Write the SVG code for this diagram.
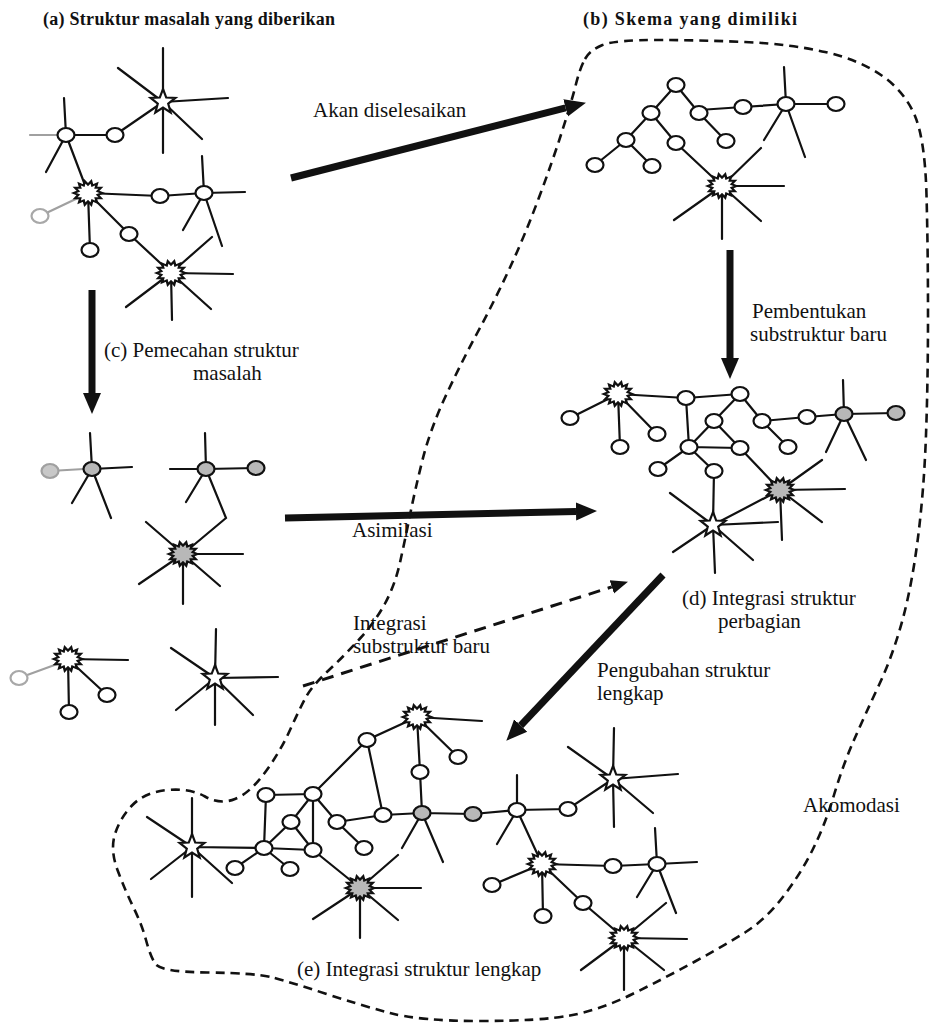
<svg xmlns="http://www.w3.org/2000/svg" width="936" height="1024" viewBox="0 0 936 1024">
<style>
.ln{stroke:#111;stroke-width:2.2;fill:none;stroke-linecap:round}
.fd{stroke:#a0a0a0}
.c{fill:#fff;stroke:#111;stroke-width:2.2}
.g{fill:#b8b8b8;stroke:#111;stroke-width:2.2}
.fc{fill:#fff;stroke:#a8a8a8;stroke-width:2.2}
.fg{fill:#c8c8c8;stroke:#a0a0a0;stroke-width:2.2}
.t{font-family:"Liberation Serif","Times New Roman",serif;font-size:21px;fill:#111}
.tb{font-family:"Liberation Serif","Times New Roman",serif;font-size:18px;font-weight:bold;fill:#111}
.ar{stroke:#111;stroke-width:7;fill:none}
.da{stroke:#111;stroke-width:3;fill:none;stroke-dasharray:12 8}
.bd{stroke:#111;stroke-width:2.6;fill:none;stroke-dasharray:9 6}
</style>
<defs>
<polygon id="star" points="0,-13 3.23,-4.45 12.36,-4.02 5.23,1.7 7.64,10.52 0,5.5 -7.64,10.52 -5.23,1.7 -12.36,-4.02 -3.23,-4.45"/>
<polygon id="burst" transform="scale(1.1,0.92)" points="13,0 8.77,2 11.71,5.64 7.04,5.61 8.11,10.16 3.91,8.11 2.89,12.67 0,9 -2.89,12.67 -3.91,8.11 -8.11,10.16 -7.04,5.61 -11.71,5.64 -8.77,2 -13,0 -8.77,-2 -11.71,-5.64 -7.04,-5.61 -8.11,-10.16 -3.91,-8.11 -2.89,-12.67 0,-9 2.89,-12.67 3.91,-8.11 8.11,-10.16 7.04,-5.61 11.71,-5.64 8.77,-2"/>
<marker id="ah" markerUnits="userSpaceOnUse" markerWidth="22" markerHeight="20" refX="0" refY="10" orient="auto"><path d="M0,1 L21,10 L0,19 Z" fill="#111"/></marker>
<marker id="ahs" markerUnits="userSpaceOnUse" markerWidth="18" markerHeight="16" refX="0" refY="8" orient="auto"><path d="M0,1 L17,8 L0,15 Z" fill="#111"/></marker>
</defs>

<g id="boundary">
<path class="bd" d="M585,59 Q590,50 602.5,45 Q615,40 657.5,40 Q700,40 745,42 Q790,44 825,52 Q860,60 882.5,76 Q905,92 915,116 Q925,140 926.5,195 Q928,250 928,315 Q928,380 926,435 Q924,490 918,537.5 Q912,585 902.5,620 Q893,655 879,685 Q865,715 854,740 Q843,765 834,795 Q825,825 812.5,850 Q800,875 782.5,897.5 Q765,920 745,932.5 Q725,945 695,961.5 Q665,978 632.5,994 Q600,1010 570,1015.5 Q540,1021 480,1021 Q420,1021 390,1013 Q360,1005 325,993.5 Q290,982 272.5,977.5 Q255,973 207.5,972.5 Q160,972 155,963.5 Q150,955 146,940 Q142,925 133.5,907.5 Q125,890 117.5,870 Q110,850 115,834 Q120,818 132.5,805 Q145,792 167.5,790 Q190,788 205,796.5 Q220,805 235,799 Q250,793 265,772.5 Q280,752 290,730 Q300,708 306,697 Q312,686 328.5,670.5 Q345,655 360,638.5 Q375,622 385,603.5 Q395,585 400,562.5 Q405,540 410,515 Q415,490 422.5,460 Q430,430 445,397.5 Q460,365 477.5,332.5 Q495,300 510,267.5 Q525,235 539,197.5 Q553,160 562.5,130 Q572,100 576,84 Q580,68 585,59 Z"/>
</g>

<g id="connectors">
<path class="ar" d="M291,178 L565.6,107.9" marker-end="url(#ah)"/>
<path class="ar" d="M730,250 L730,358" marker-end="url(#ah)"/>
<path class="ar" d="M92,290 L92,393" marker-end="url(#ah)"/>
<path class="ar" d="M285,518 L576,511.5" marker-end="url(#ah)"/>
<path class="da" d="M303,686 L611.8,586.9" marker-end="url(#ahs)"/>
<path class="ar" d="M663,575 L520.7,725.5" marker-end="url(#ah)"/>
</g>

<g id="cluster-a">
<path class="ln" d="M163,102 L163,48 M163,102 L118,68 M163,102 L228,98 M163,102 L202,139 M163,102 L163,153 M163,102 L115,135 M66,135 L64,98 M66,135 L46,172 M66,135 L115,135 M66,135 L88,193 M88,193 L90,250 M88,193 L160,196 M88,193 L129,234 M160,196 L204,193 M204,193 L202,156 M204,193 L245,192 M204,193 L183,230 M204,193 L222,246 M129,234 L171,273 M171,273 L212,237 M171,273 L233,274 M171,273 L211,309 M171,273 L172,320 M171,273 L126,307"/>
<path class="ln fd" d="M58,135 L30,135 M80,197 L40,216"/>
<use href="#star" x="163" y="102" class="c"/>
<ellipse class="c" cx="66" cy="135" rx="8.5" ry="7"/>
<ellipse class="c" cx="115" cy="135" rx="8.5" ry="7"/>
<ellipse class="c" cx="90" cy="250" rx="8.5" ry="7"/>
<ellipse class="c" cx="160" cy="196" rx="8.5" ry="7"/>
<ellipse class="c" cx="204" cy="193" rx="8.5" ry="7"/>
<ellipse class="c" cx="129" cy="234" rx="8.5" ry="7"/>
<ellipse class="fc" cx="40" cy="216" rx="8.5" ry="7"/>
<use href="#burst" x="88" y="193" class="c"/>
<use href="#burst" x="171" y="273" class="c"/>
</g>

<g id="cluster-b">
<path class="ln" d="M676,85 L651,113 M676,85 L699,113 M651,113 L626,140 M651,113 L676,143 M626,140 L595,165 M626,140 L652,166 M676,143 L722,186 M699,110 L743,107 M699,113 L726,141 M743,107 L786,104 M786,104 L836,104 M786,104 L784,67 M786,104 L805,157 M786,104 L764,140 M761,148 L722,186 M722,186 L784,186 M722,186 L761,221 M722,186 L722,239 M722,186 L674,220"/>
<ellipse class="c" cx="676" cy="85" rx="8.5" ry="7"/>
<ellipse class="c" cx="651" cy="113" rx="8.5" ry="7"/>
<ellipse class="c" cx="626" cy="140" rx="8.5" ry="7"/>
<ellipse class="c" cx="595" cy="165" rx="8.5" ry="7"/>
<ellipse class="c" cx="652" cy="166" rx="8.5" ry="7"/>
<ellipse class="c" cx="676" cy="143" rx="8.5" ry="7"/>
<ellipse class="c" cx="699" cy="113" rx="8.5" ry="7"/>
<ellipse class="c" cx="726" cy="141" rx="8.5" ry="7"/>
<ellipse class="c" cx="743" cy="107" rx="8.5" ry="7"/>
<ellipse class="c" cx="786" cy="104" rx="8.5" ry="7"/>
<ellipse class="c" cx="836" cy="104" rx="8.5" ry="7"/>
<use href="#burst" x="722" y="186" class="c"/>
</g>

<g id="cluster-c">
<path class="ln" d="M92,469 L90,433 M92,469 L132,467 M92,469 L72,503 M92,469 L111,518 M206,469 L205,433 M206,469 L170,469 M206,469 L186,502 M206,469 L256,468 M206,469 L226,518 L183,554 M183,554 L146,522 M183,554 L243,554 M183,554 L220,586 M183,554 L183,604 M183,554 L139,584 M68,659 L128,660 M68,659 L69,712 M68,659 L107,695 M215,678 L216,629 M215,678 L171,648 M215,678 L278,677 M215,678 L176,710 M215,678 L215,725 M215,678 L253,715"/>
<path class="ln fd" d="M84,469 L50,471 M60,663 L19,678"/>
<ellipse class="g" cx="92" cy="469" rx="8.5" ry="7"/>
<ellipse class="g" cx="206" cy="469" rx="8.5" ry="7"/>
<ellipse class="g" cx="256" cy="468" rx="8.5" ry="7"/>
<ellipse class="fg" cx="50" cy="471" rx="8.5" ry="7"/>
<use href="#burst" x="183" y="554" class="g"/>
<use href="#burst" x="68" y="659" class="c"/>
<ellipse class="c" cx="69" cy="712" rx="8.5" ry="7"/>
<ellipse class="c" cx="107" cy="695" rx="8.5" ry="7"/>
<ellipse class="fc" cx="19" cy="678" rx="8.5" ry="7"/>
<use href="#star" x="215" y="678" class="c"/>
</g>

<g id="cluster-d">
<path class="ln" d="M618,394 L686,398 M618,394 L570,418 M618,394 L620,447 M618,394 L657,434 M686,398 L740,394 M686,398 L689,447 M740,394 L714,421 M740,394 L762,421 M762,421 L807,417 M762,421 L788,447 M807,417 L844,414 L896,413 M844,414 L843,380 M844,414 L866,460 M844,414 L826,452 M822,460 L780,490 M714,421 L689,447 M714,421 L740,448 M689,447 L740,448 M689,447 L658,469 M689,447 L714,471 M740,448 L780,490 M780,490 L845,489 M780,490 L822,522 M780,490 L782,540 M780,490 L713,525 M713,525 L714,471 M713,525 L670,493 M713,525 L778,522 M713,525 L673,552 M713,525 L715,573 M713,525 L753,560"/>
<use href="#burst" x="618" y="394" class="c"/>
<ellipse class="c" cx="686" cy="398" rx="8.5" ry="7"/>
<ellipse class="c" cx="740" cy="394" rx="8.5" ry="7"/>
<ellipse class="c" cx="570" cy="418" rx="8.5" ry="7"/>
<ellipse class="c" cx="620" cy="447" rx="8.5" ry="7"/>
<ellipse class="c" cx="657" cy="434" rx="8.5" ry="7"/>
<ellipse class="c" cx="714" cy="421" rx="8.5" ry="7"/>
<ellipse class="c" cx="762" cy="421" rx="8.5" ry="7"/>
<ellipse class="c" cx="807" cy="417" rx="8.5" ry="7"/>
<ellipse class="c" cx="788" cy="447" rx="8.5" ry="7"/>
<ellipse class="c" cx="689" cy="447" rx="8.5" ry="7"/>
<ellipse class="c" cx="740" cy="448" rx="8.5" ry="7"/>
<ellipse class="c" cx="658" cy="469" rx="8.5" ry="7"/>
<ellipse class="c" cx="714" cy="471" rx="8.5" ry="7"/>
<ellipse class="g" cx="844" cy="414" rx="8.5" ry="7"/>
<ellipse class="g" cx="896" cy="413" rx="8.5" ry="7"/>
<use href="#burst" x="780" y="490" class="g"/>
<use href="#star" x="713" y="525" class="c"/>
</g>

<g id="cluster-e">
<path class="ln" d="M192,847 L192,798 M192,847 L147,817 M192,847 L151,879 M192,847 L192,897 M192,847 L232,883 M192,847 L264,848 M264,848 L235,868 M264,848 L290,869 M266,795 L313,794 M266,795 L264,848 M264,848 L313,850 M313,794 L313,850 M264,848 L291,822 L313,794 M291,822 L313,850 M313,794 L337,822 L364,848 M337,822 L383,815 M313,794 L367,740 L417,717 M367,740 L383,815 M417,717 L482,721 M417,717 L458,757 M417,717 L420,772 L422,813 M383,815 L422,813 L473,814 L517,810 M422,813 L443,862 M422,813 L402,848 M398,855 L360,888 M313,850 L360,888 M360,888 L421,888 M360,888 L398,920 M360,888 L360,938 M360,888 L313,919 M517,810 L517,775 M517,810 L497,844 M517,810 L568,809 L613,779 M517,810 L542,864 M613,779 L614,728 M613,779 L568,747 M613,779 L678,774 M613,779 L653,813 M613,779 L614,827 M542,864 L492,885 M542,864 L543,916 M542,864 L613,866 L657,864 M542,864 L583,903 L624,938 M657,864 L655,828 M657,864 L697,862 M657,864 L637,897 M657,864 L676,913 M624,938 L666,903 M624,938 L687,939 M624,938 L664,970 M624,938 L624,990 M624,938 L581,970"/>
<use href="#star" x="192" y="847" class="c"/>
<ellipse class="c" cx="235" cy="868" rx="8.5" ry="7"/>
<ellipse class="c" cx="264" cy="848" rx="8.5" ry="7"/>
<ellipse class="c" cx="266" cy="795" rx="8.5" ry="7"/>
<ellipse class="c" cx="313" cy="794" rx="8.5" ry="7"/>
<ellipse class="c" cx="313" cy="850" rx="8.5" ry="7"/>
<ellipse class="c" cx="291" cy="822" rx="8.5" ry="7"/>
<ellipse class="c" cx="290" cy="869" rx="8.5" ry="7"/>
<ellipse class="c" cx="337" cy="822" rx="8.5" ry="7"/>
<ellipse class="c" cx="364" cy="848" rx="8.5" ry="7"/>
<ellipse class="c" cx="367" cy="740" rx="8.5" ry="7"/>
<ellipse class="c" cx="383" cy="815" rx="8.5" ry="7"/>
<ellipse class="c" cx="420" cy="772" rx="8.5" ry="7"/>
<ellipse class="c" cx="458" cy="757" rx="8.5" ry="7"/>
<ellipse class="g" cx="422" cy="813" rx="8.5" ry="7"/>
<ellipse class="g" cx="473" cy="814" rx="8.5" ry="7"/>
<use href="#burst" x="417" y="717" class="c"/>
<use href="#burst" x="360" y="888" class="g"/>
<ellipse class="c" cx="517" cy="810" rx="8.5" ry="7"/>
<ellipse class="c" cx="568" cy="809" rx="8.5" ry="7"/>
<use href="#star" x="613" y="779" class="c"/>
<ellipse class="c" cx="492" cy="885" rx="8.5" ry="7"/>
<ellipse class="c" cx="543" cy="916" rx="8.5" ry="7"/>
<ellipse class="c" cx="613" cy="866" rx="8.5" ry="7"/>
<ellipse class="c" cx="583" cy="903" rx="8.5" ry="7"/>
<ellipse class="c" cx="657" cy="864" rx="8.5" ry="7"/>
<use href="#burst" x="542" y="864" class="c"/>
<use href="#burst" x="624" y="938" class="c"/>
</g>

<g id="labels">
<text class="tb" x="43" y="25" textLength="292" lengthAdjust="spacing">(a) Struktur masalah yang diberikan</text>
<text class="tb" x="583" y="25" textLength="214" lengthAdjust="spacing">(b) Skema yang dimiliki</text>
<text class="t" x="313" y="117">Akan diselesaikan</text>
<text class="t" x="752" y="318">Pembentukan</text>
<text class="t" x="750" y="341">substruktur baru</text>
<text class="t" x="104" y="357">(c) Pemecahan struktur</text>
<text class="t" x="193" y="380">masalah</text>
<text class="t" x="352" y="537">Asimilasi</text>
<text class="t" x="353" y="630">Integrasi</text>
<text class="t" x="353" y="653">substruktur baru</text>
<text class="t" x="682" y="605">(d) Integrasi struktur</text>
<text class="t" x="718" y="628">perbagian</text>
<text class="t" x="597" y="677">Pengubahan struktur</text>
<text class="t" x="597" y="700">lengkap</text>
<text class="t" x="803" y="812">Akomodasi</text>
<text class="t" x="297" y="976">(e) Integrasi struktur lengkap</text>
</g>
</svg>
